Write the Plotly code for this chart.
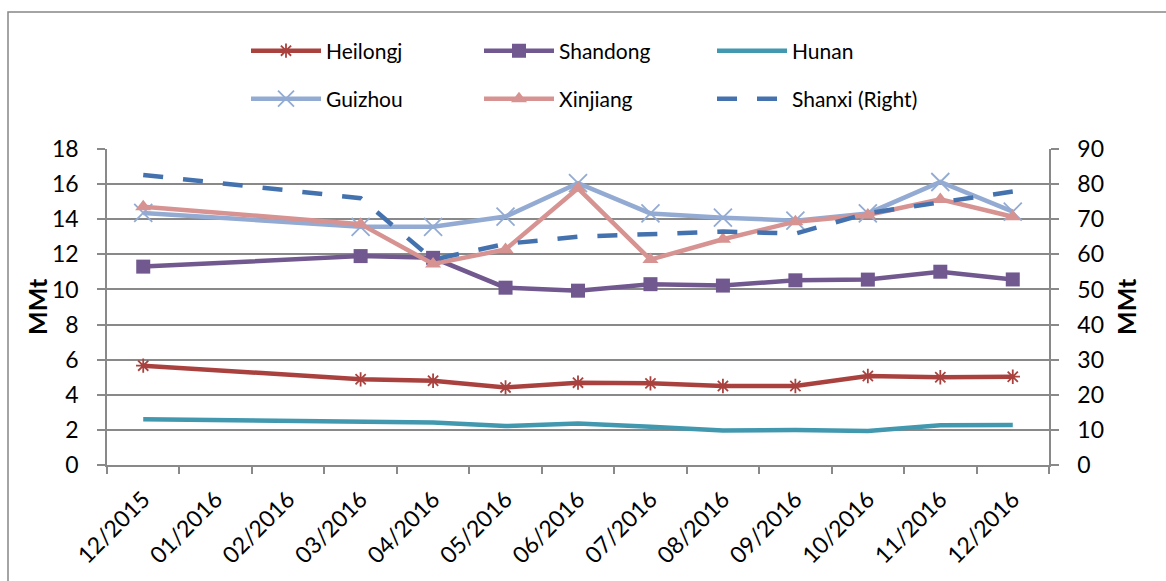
import plotly.graph_objects as go

categories = ["12/2015", "01/2016", "02/2016", "03/2016", "04/2016", "05/2016", "06/2016",
              "07/2016", "08/2016", "09/2016", "10/2016", "11/2016", "12/2016"]

heilongj = [5.66, None, None, 4.88, 4.80, 4.42, 4.69, 4.65, 4.50, 4.50, 5.07, 5.00, 5.03]
shandong = [11.30, None, None, 11.90, 11.80, 10.10, 9.93, 10.30, 10.22, 10.52, 10.56, 11.01, 10.57]
hunan = [2.60, None, None, 2.50, 2.42, 2.22, 2.36, 2.18, 1.96, 1.99, 1.94, 2.26, 2.28]
guizhou = [14.36, None, None, 13.57, 13.57, 14.15, 16.05, 14.33, 14.09, 13.92, 14.33, 16.12, 14.43]
xinjiang = [14.71, None, None, 13.72, 11.45, 12.28, 15.76, 11.70, 12.86, 13.86, 14.24, 15.13, 14.14]
shanxi = [82.6, None, None, 76.0, 58.5, 63.0, 65.0, 65.9, 66.5, 65.9, 71.7, 74.8, 77.9]

FONT = "Lato"
GRID = "#898989"
TICKSIZE = 23

W, H = 1166, 581
L, R, T, B = 107, 117, 149, 116
pw, ph = W - L - R, H - T - B


def px(xp):
    return (xp - L) / pw


def py(yp):
    return (H - B - yp) / ph


fig = go.Figure()


def add(name, y, color, symbol=None, msize=12, legend="legend", yaxis="y", dash=None, mline=False):
    mode = "lines+markers" if symbol else "lines"
    marker = None
    if symbol:
        if mline:
            marker = dict(symbol=symbol, size=msize, color=color, line=dict(color=color, width=1.8))
        else:
            marker = dict(symbol=symbol, size=msize, color=color, line=dict(width=0))
    fig.add_trace(go.Scatter(
        x=categories, y=y, name=name, mode=mode, connectgaps=True, showlegend=True,
        line=dict(color=color, width=4.5, dash=dash),
        marker=marker, legend=legend, yaxis=yaxis))


add("Heilongj", heilongj, "#A9423F", "asterisk-open", 12, "legend", mline=True)
add("Shandong", shandong, "#71588F", "square", 14, "legend2")
add("Hunan", hunan, "#4198AF", None, legend="legend3")
add("Guizhou", guizhou, "#93ABD3", "x-thin-open", 18, "legend4", mline=True)
add("Xinjiang", xinjiang, "#D69391", "triangle-up", 14, "legend5")
add("Shanxi (Right)", shanxi, "#4472AE", None, legend="legend6", yaxis="y2", dash="20px,20px")

legend_common = dict(orientation="h", itemwidth=70, visible=True,
                     font=dict(family=FONT, size=21, color="black"),
                     bgcolor="rgba(0,0,0,0)", xanchor="left", yanchor="middle",
                     itemclick=False, itemdoubleclick=False)

col_x = [246, 479, 712]
row_y = [51, 99]
legends = {}
for i in range(6):
    key = "legend" if i == 0 else f"legend{i + 1}"
    legends[key] = dict(x=px(col_x[i % 3]), y=py(row_y[i // 3]), **legend_common)

fig.update_layout(
    width=W, height=H,
    showlegend=True,
    margin=dict(l=L, r=R, t=T, b=B, autoexpand=False),
    paper_bgcolor="white", plot_bgcolor="white",
    font=dict(family=FONT, size=21, color="black"),
    **legends,
    xaxis=dict(type="category", categoryorder="array", categoryarray=categories,
               range=[-0.5, 12.5], tickson="boundaries", ticks="outside", ticklen=7,
               tickcolor=GRID, tickwidth=1.5, showline=True, linecolor=GRID, linewidth=1.5,
               showgrid=False, tickangle=-45, ticklabelstandoff=10,
               tickfont=dict(family=FONT, size=TICKSIZE, color="black")),
    yaxis=dict(range=[0, 18], dtick=2, tick0=0, ticks="outside", ticklen=8,
               tickcolor=GRID, tickwidth=1.5, showline=True, linecolor=GRID, linewidth=1.5,
               showgrid=True, gridcolor=GRID, gridwidth=1.5, zeroline=False,
               ticklabelstandoff=14, tickfont=dict(family=FONT, size=TICKSIZE, color="black")),
    yaxis2=dict(range=[0, 90], dtick=10, tick0=0, overlaying="y", side="right",
                ticks="outside", ticklen=8, tickcolor=GRID, tickwidth=1.5,
                showline=True, linecolor=GRID, linewidth=1.5, showgrid=False, zeroline=False,
                ticklabelstandoff=14, tickfont=dict(family=FONT, size=TICKSIZE, color="black")),
    shapes=[dict(type="rect", xref="paper", yref="paper",
                 x0=px(8), x1=px(1180), y0=py(595), y1=py(12),
                 line=dict(color="#878787", width=1.5), fillcolor="rgba(0,0,0,0)", layer="below")],
    annotations=[
        dict(text="<b>MMt</b>", xref="paper", yref="paper", x=px(37), y=py(307),
             textangle=-90, showarrow=False, font=dict(family=FONT, size=25, color="black"),
             xanchor="center", yanchor="middle"),
        dict(text="<b>MMt</b>", xref="paper", yref="paper", x=px(1126), y=py(307),
             textangle=-90, showarrow=False, font=dict(family=FONT, size=25, color="black"),
             xanchor="center", yanchor="middle"),
    ],
)

fig.write_html("out.html")
